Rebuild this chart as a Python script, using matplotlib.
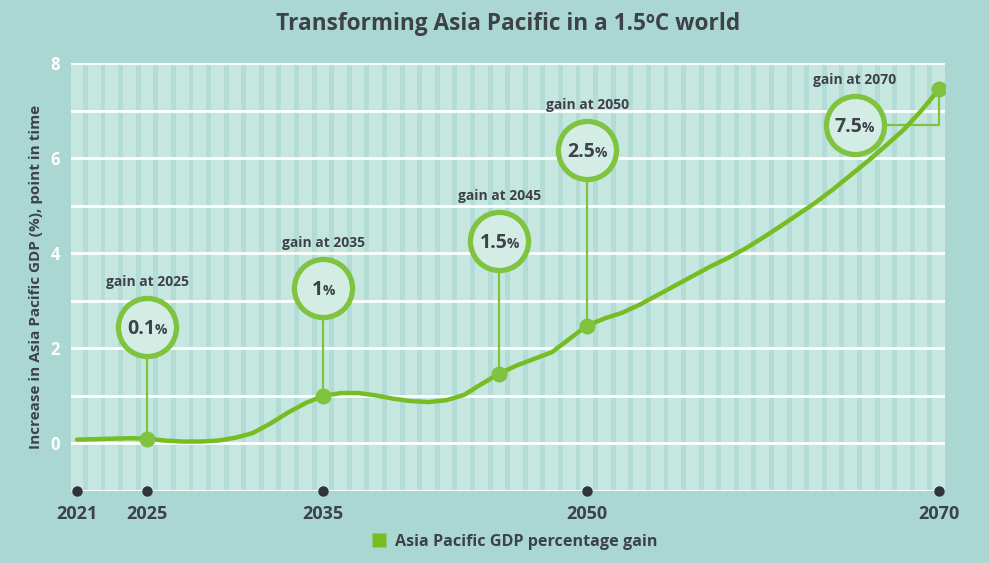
import matplotlib
matplotlib.use("Agg")
import matplotlib.pyplot as plt
from matplotlib.lines import Line2D
from matplotlib.transforms import offset_copy

# ---------------- data ----------------
years = list(range(2021, 2071))
gdp_gain = [0.08, 0.09, 0.10, 0.11, 0.10, 0.06, 0.04, 0.04, 0.06, 0.12,
            0.22, 0.42, 0.65, 0.85, 1.00, 1.06, 1.06, 1.01, 0.94, 0.89,
            0.87, 0.91, 1.02, 1.25, 1.47, 1.64, 1.78, 1.92, 2.20, 2.48,
            2.63, 2.75, 2.92, 3.12, 3.32, 3.52, 3.72, 3.90, 4.10, 4.33,
            4.57, 4.82, 5.07, 5.35, 5.65, 5.95, 6.27, 6.60, 7.00, 7.45]
highlight_years = [2025, 2035, 2045, 2050, 2070]
highlight_labels = ["0.1", "1", "1.5", "2.5", "7.5"]
xtick_years = [2021, 2025, 2035, 2050, 2070]
ytick_values = [0, 2, 4, 6, 8]
title = "Transforming Asia Pacific in a 1.5ºC world"
ylabel = "Increase in Asia Pacific GDP (%), point in time"
series_name = "Asia Pacific GDP percentage gain"

# ---------------- layout / style ----------------
bubble_centers = [(2025, 2.44), (2035, 3.26), (2045, 4.25), (2050, 6.17), (2065.2, 6.69)]
GREEN = "#77bd22"
GREEN_LIGHT = "#80c341"
DARK = "#3d4249"
BG = "#aad7d1"
PLOT_BG = "#c6e6e0"
STRIPE = "#b4dcd7"
FONT = "Open Sans"

plt.rcParams['font.family'] = [FONT, 'DejaVu Sans']

fig = plt.figure(figsize=(9.89, 5.63), dpi=100, facecolor=BG)
ax = fig.add_axes([71/989, 72/563, 874/989, 428/563])
ax.set_facecolor(PLOT_BG)
ax.set_xlim(2020.66, 2070.34)
ax.set_ylim(-1, 8)

# vertical stripes
for y in range(2020, 2071):
    ax.axvspan(y + 0.34, y + 0.62, color=STRIPE, lw=0, zorder=0)

# horizontal grid lines
for v in range(-1, 9):
    ax.axhline(v, color="white", lw=2, zorder=1)

for s in ax.spines.values():
    s.set_visible(False)

# main curve
ax.plot(years, gdp_gain, color=GREEN, lw=3.2, solid_capstyle="round",
        solid_joinstyle="round", zorder=4)

# highlight dots, connectors and bubbles
for yr, lab, (cx, cy) in zip(highlight_years, highlight_labels, bubble_centers):
    val = gdp_gain[years.index(yr)]
    if yr == 2070:
        ax.plot([cx, yr, yr], [cy, cy, val], color=GREEN_LIGHT, lw=1.6, zorder=3)
    else:
        ax.plot([yr, yr], [val, cy], color=GREEN_LIGHT, lw=1.6, zorder=3)
    ax.plot([yr], [val], "o", ms=11.5, color=GREEN_LIGHT, mec="none", zorder=5)
    ax.scatter([cx], [cy], s=1750, facecolor="#d3ece4", edgecolor=GREEN_LIGHT,
               linewidth=3.8, zorder=6)
    ax.annotate(f"gain at {yr}", (cx, cy), xytext=(0, 32.5), textcoords="offset points",
                ha="center", va="center", fontsize=10, fontweight="bold",
                color=DARK, zorder=7)

# tick dots and labels
ax.scatter(xtick_years, [-1] * len(xtick_years), s=42, color="#303339",
           zorder=6, clip_on=False)
ax.set_xticks(xtick_years)
ax.set_xticklabels([str(y) for y in xtick_years])
ax.set_yticks(ytick_values)
ax.set_yticklabels([str(v) for v in ytick_values])
ax.tick_params(axis="x", length=0, pad=10, labelsize=13, labelcolor=DARK)
ax.tick_params(axis="y", length=0, pad=8, labelsize=12, labelcolor="white")
for t in ax.get_xticklabels() + ax.get_yticklabels():
    t.set_fontweight("bold")

ax.set_ylabel(ylabel, fontsize=11, fontweight="bold", color=DARK, labelpad=5)
ax.set_title(title, fontsize=16.3, fontweight="bold", color=DARK, pad=24)

handle = Line2D([], [], marker="s", ls="none", ms=10, color=GREEN, mec="none")
fig.legend([handle], [series_name], loc="center", bbox_to_anchor=(513/989, 1 - 542/563),
           frameon=False, handletextpad=0.4, handlelength=1.2,
           prop={"weight": "bold", "size": 11.6})
for t in fig.legends[0].get_texts():
    t.set_color(DARK)

# bubble value texts: big number + smaller percent sign, centred together
fig.canvas.draw()
renderer = fig.canvas.get_renderer()
for lab, (cx, cy) in zip(highlight_labels, bubble_centers):
    tn = ax.text(cx, cy, lab, fontsize=14, fontweight="bold", color=DARK,
                 ha="left", va="baseline", zorder=8)
    tp = ax.text(cx, cy, "%", fontsize=10, fontweight="bold", color=DARK,
                 ha="left", va="baseline", zorder=8)
    wn = tn.get_window_extent(renderer).width
    wp = tp.get_window_extent(renderer).width
    gap = -1
    total = wn + wp + gap
    dx0 = -total / 2 * 72 / fig.dpi
    tn.set_transform(offset_copy(ax.transData, fig=fig, x=dx0, y=-5, units="points"))
    tp.set_transform(offset_copy(ax.transData, fig=fig,
                                 x=dx0 + (wn + gap) * 72 / fig.dpi, y=-5, units="points"))

fig.savefig("out.png", dpi=100, facecolor=BG)
